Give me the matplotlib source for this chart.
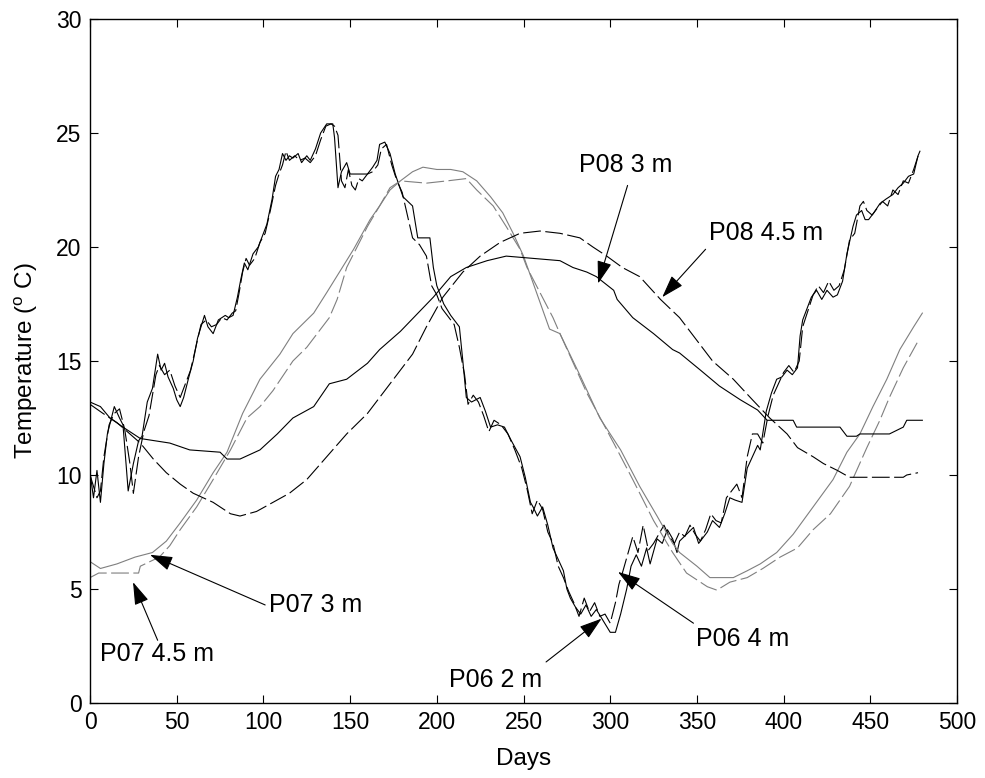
import matplotlib
matplotlib.use("Agg")
import matplotlib.pyplot as plt

plt.rcParams["font.family"] = ["Liberation Sans", "DejaVu Sans"]
plt.rcParams["mathtext.fontset"] = "custom"
plt.rcParams["mathtext.rm"] = "Liberation Sans"
plt.rcParams["mathtext.it"] = "Liberation Sans"

# P06 2 m
p06_2_days = [0, 2, 4, 6, 8, 10, 14, 17, 19, 22, 25, 28, 30, 33, 36, 39, 41, 43, 45, 48,
              50, 52, 54, 57, 59.5, 62, 66, 68, 71, 74, 78, 80, 82.5, 85, 87, 89, 91, 94, 97, 99,
              102, 105, 107, 109, 111, 113, 115, 117, 120, 122, 125, 127, 130, 133, 136.5, 140,
              141, 143, 145, 148, 150, 152, 156, 160, 163, 165.5, 167, 170, 173, 176, 180.5, 186,
              189, 196, 198, 200, 204, 208, 213, 215, 217, 220, 225, 228, 231, 235, 239, 243, 248,
              251, 254, 255.5, 258, 261, 264, 267, 270, 273, 275, 277, 280, 283, 286, 289, 292,
              296, 300, 303, 306, 309.5, 312, 315, 318, 321, 323, 327, 330, 333, 336, 338.5, 340,
              344, 348, 351, 354, 356, 359, 363, 366, 369, 372, 376, 379, 382, 385, 386.5, 390,
              393, 396, 399, 402, 405, 408, 409.5, 411, 413.5, 416, 419, 422, 425, 428.5, 431,
              434, 436.5, 440, 442, 445, 447, 449, 452, 455.5, 459, 463, 466, 469, 472, 475,
              477.5, 478.6]
p06_2_temp = [10.1, 9.0, 10.2, 8.8, 10.5, 11.8, 13.0, 12.5, 12.2, 9.3, 10.5, 11.5, 11.7, 13.2,
              13.8, 15.3, 14.6, 14.9, 14.3, 13.8, 13.3, 13.0, 13.4, 14.3, 15.0, 16.0, 17.0, 16.5,
              16.2, 16.8, 17.0, 16.9, 17.0, 17.8, 18.6, 19.3, 19.0, 19.7, 20.0, 20.4, 21.0, 22.1,
              23.1, 23.4, 24.1, 23.8, 24.0, 23.9, 24.1, 23.7, 24.0, 23.8, 24.3, 25.0, 25.4, 25.4,
              24.8, 22.6, 23.3, 23.7, 23.2, 23.2, 23.2, 23.2, 23.5, 23.8, 24.5, 24.6, 24.1, 23.2,
              22.2, 21.8, 20.4, 20.4, 19.1, 18.3, 17.5, 17.0, 16.5, 15.0, 13.4, 13.2, 13.4, 12.8,
              12.1, 12.2, 12.1, 11.5, 10.8, 9.9, 8.8, 8.6, 8.2, 8.6, 7.8, 6.8, 6.3, 5.8, 5.0, 4.6,
              4.2, 3.9, 4.3, 3.8, 4.1, 3.6, 3.1, 3.1, 3.9, 5.0, 6.0, 6.5, 6.0, 6.8, 6.1, 7.2, 7.0,
              7.6, 7.2, 6.6, 7.1, 7.4, 7.7, 7.0, 7.3, 7.5, 8.0, 7.7, 8.3, 9.0, 8.9, 8.8, 10.3,
              10.8, 11.3, 11.1, 12.8, 13.6, 14.2, 14.3, 14.6, 14.4, 14.7, 16.1, 16.8, 17.3, 17.8,
              18.1, 17.7, 18.1, 17.8, 17.9, 18.5, 19.7, 20.9, 21.4, 21.6, 21.2, 21.2, 21.5, 21.9,
              22.1, 22.3, 22.6, 22.8, 23.1, 23.2, 24.0, 24.2]

# P06 4 m
p06_4_days = [0, 2, 4, 6, 8, 11, 14, 17, 20, 23, 25, 28, 31, 34, 36, 38, 40, 43, 46, 49, 52,
              55, 58, 61, 64, 67, 70, 73, 76, 79, 82, 84, 86, 88, 90, 92, 95, 98, 101, 104, 107,
              109, 111, 113, 115, 118, 121, 124, 127, 130, 133, 136, 139, 141, 143, 145, 147, 149,
              151, 153, 155, 157, 160, 163, 166, 168, 171, 174, 177, 180, 183, 186, 190, 194, 197,
              200, 203, 206, 210, 213, 216, 218, 221, 224, 227, 230, 233, 237, 241, 245, 249, 252,
              255, 258, 261, 264, 267, 270, 273, 276, 279, 282, 285, 288, 291, 294, 297, 300, 303,
              305, 307, 310, 313, 316, 319, 322, 325, 328, 331, 334, 337, 340, 343, 346, 349, 352,
              355, 358, 361, 364, 367, 370, 373, 376, 379, 382, 385, 388, 391, 394, 397, 400, 403,
              406, 409, 411, 414, 417, 420, 423, 426, 429, 432, 435, 438, 441, 444, 446, 448, 451,
              454, 457, 460, 463, 466, 469, 472, 475, 478]
p06_4_temp = [10.0, 9.5, 9.0, 9.3, 10.8, 12.2, 12.7, 12.9, 12.0, 10.5, 9.2, 10.8, 11.9, 12.6,
              13.5, 14.4, 14.8, 14.4, 14.6, 13.9, 13.4, 14.0, 14.6, 15.6, 16.6, 16.8, 16.5, 16.6,
              16.9, 16.8, 17.1, 17.2, 18.0, 18.9, 19.5, 19.2, 19.5, 20.2, 20.6, 21.6, 22.7, 23.2,
              23.6, 24.2, 23.8, 24.0, 23.8, 23.9, 23.7, 24.0, 24.7, 25.3, 25.4, 25.3, 24.9, 22.9,
              22.6, 23.4, 22.7, 22.5, 23.0, 22.9, 23.2, 23.3, 23.6, 24.3, 24.5, 23.6, 22.9, 22.4,
              21.4, 20.4, 20.1, 19.6, 18.3, 17.9, 17.3, 17.0, 16.6, 15.6, 14.4, 13.1, 13.5, 13.2,
              12.6, 11.9, 12.4, 12.2, 11.8, 11.1, 10.3, 9.4, 8.3, 8.9, 8.5, 7.5, 7.0, 6.0, 5.5,
              4.9, 4.4, 3.8, 4.6, 4.0, 4.4, 3.8, 3.9, 3.5, 4.4, 5.2, 5.7, 6.5, 7.3, 6.6, 7.8, 6.7,
              7.0, 7.4, 7.8, 7.3, 7.0, 7.5, 7.3, 7.8, 7.4, 7.1, 7.6, 8.3, 8.0, 7.9, 9.0, 9.3, 9.6,
              9.0, 10.8, 11.8, 11.8, 11.4, 12.6, 13.5, 14.0, 14.5, 14.8, 14.5, 15.0, 16.5, 17.2,
              17.9, 18.3, 18.0, 18.5, 18.1, 18.3, 19.0, 20.3, 20.6, 21.8, 22.0, 21.6, 21.4, 21.7,
              22.0, 21.8, 22.5, 22.3, 22.9, 22.8, 23.4, 24.1]

# P07 3 m
p07_3_days = [0, 6, 15.5, 26, 36, 44, 52, 61.5, 71, 79, 88, 98, 109.5, 117, 129, 136.5, 152,
              161.5, 167, 173, 179, 186, 192, 200, 208, 215, 223, 231, 238, 244, 250, 265, 271,
              283, 294, 306, 317, 327, 336, 340, 350, 357.5, 371, 379, 386.5, 396, 405.5, 417,
              428.5, 436.5, 444, 451.5, 459.5, 467, 475, 480]
p07_3_temp = [6.2, 5.9, 6.1, 6.4, 6.6, 7.1, 7.9, 8.9, 10.1, 11.0, 12.7, 14.2, 15.3, 16.2, 17.1,
              18.0, 19.9, 21.2, 21.8, 22.5, 22.9, 23.3, 23.5, 23.4, 23.4, 23.3, 22.9, 22.2, 21.5,
              20.6, 19.6, 16.4, 16.2, 14.3, 12.5, 11.1, 9.5, 8.2, 7.0, 6.6, 6.0, 5.5, 5.5, 5.8,
              6.1, 6.6, 7.4, 8.6, 9.8, 11.0, 11.8, 13.0, 14.2, 15.5, 16.5, 17.1]

# P07 4.5 m
p07_45_days = [0, 5, 28, 29, 40, 46, 52, 61.5, 71, 81, 90.5, 98, 105.5, 117, 125, 138, 142.5,
               148, 160, 167, 173, 179, 194, 206, 217, 223, 232.5, 240, 248, 252, 267, 271,
               286.5, 302, 313, 325, 336, 344, 356, 361.5, 369, 379, 388, 398, 408, 417, 427,
               432.5, 438, 448, 455.5, 461, 469, 477]
p07_45_temp = [5.5, 5.7, 5.7, 6.0, 6.4, 6.9, 7.6, 8.6, 9.8, 11.1, 12.5, 13.0, 13.7, 15.0, 15.6,
               16.9, 17.7, 19.1, 20.9, 21.8, 22.6, 22.9, 22.8, 22.9, 23.0, 22.5, 21.8, 20.9, 19.9,
               19.1, 16.9, 16.2, 13.6, 11.4, 9.8, 8.0, 6.6, 5.7, 5.1, 4.95, 5.3, 5.5, 5.9, 6.4,
               6.8, 7.6, 8.3, 8.9, 9.5, 11.2, 12.4, 13.4, 14.7, 15.8]

# P08 3 m
p08_3_days = [0, 6, 11.5, 19, 29, 46, 57.5, 75, 79, 86.5, 98, 108, 117, 129, 138, 148, 160,
              167, 179, 198, 208, 217, 229, 240, 255.5, 271, 278.5, 286.5, 292, 302, 304, 313,
              325, 336, 340, 352, 363, 375, 385, 390.5, 405.5, 407.5, 432.5, 436.5, 442, 444,
              461, 469, 471, 480]
p08_3_temp = [13.2, 13.0, 12.5, 12.1, 11.6, 11.4, 11.1, 11.0, 10.7, 10.7, 11.1, 11.8, 12.5,
              13.0, 14.0, 14.2, 14.9, 15.5, 16.3, 17.8, 18.7, 19.1, 19.4, 19.6, 19.5, 19.4, 19.1,
              18.9, 18.7, 18.1, 17.7, 16.9, 16.2, 15.5, 15.35, 14.6, 13.9, 13.3, 12.85, 12.4,
              12.4, 12.1, 12.1, 11.7, 11.7, 11.8, 11.8, 12.1, 12.4, 12.4]

# P08 4.5 m
p08_45_days = [0, 7.5, 15.5, 23, 29, 36.5, 44, 52, 59.5, 71, 81, 86.5, 96, 105.5, 115, 125,
               136.5, 148, 160, 167, 175, 186, 194, 203.5, 215, 225, 236.5, 248, 259.5, 271,
               282.5, 290, 298, 307, 317, 323, 329, 340, 350, 359, 371, 382, 392, 402, 408, 417,
               423, 431, 438, 469, 471, 477.5]
p08_45_temp = [13.1, 12.7, 12.3, 11.8, 11.4, 10.7, 10.1, 9.6, 9.2, 8.8, 8.3, 8.2, 8.4, 8.8,
               9.2, 9.8, 10.8, 11.8, 12.7, 13.4, 14.2, 15.3, 16.5, 17.8, 18.9, 19.6, 20.2, 20.6,
               20.7, 20.6, 20.4, 20.0, 19.6, 19.1, 18.7, 18.2, 17.7, 16.9, 15.9, 15.0, 14.2, 13.3,
               12.5, 11.8, 11.2, 10.8, 10.5, 10.2, 9.9, 9.9, 10.0, 10.1]

grey = "#7f7f7f"
dash = (16, 4)

fig = plt.figure(figsize=(9.85, 7.78), dpi=100)
ax = fig.add_axes([0.0914, 0.0964, 0.8802, 0.8792])

ax.plot(p06_2_days, p06_2_temp, color="black", lw=0.8)
ax.plot(p06_4_days, p06_4_temp, color="black", lw=0.8, dashes=dash)
ax.plot(p07_3_days, p07_3_temp, color=grey, lw=0.8)
ax.plot(p07_45_days, p07_45_temp, color=grey, lw=0.8, dashes=dash)
ax.plot(p08_3_days, p08_3_temp, color="black", lw=0.8)
ax.plot(p08_45_days, p08_45_temp, color="black", lw=0.8, dashes=dash)

ax.set_xlim(0, 500)
ax.set_ylim(0, 30)
ax.set_xticks(range(0, 501, 50))
ax.set_yticks(range(0, 31, 5))
ax.tick_params(direction="in", top=True, right=True, length=6, width=0.8, labelsize=16.5, pad=6)
for s in ax.spines.values():
    s.set_linewidth(1.0)

ax.set_xlabel("Days", fontsize=17.5, labelpad=10)
ax.set_ylabel(r"Temperature ($^{o}$ C)", fontsize=17.5, labelpad=12)

# labels: (text, text position, arrow start, arrow tip)
labels = [
    ("P08 3 m", (309, 23.6), (310, 22.7), (293, 18.4)),
    ("P08 4.5 m", (390, 20.6), (355, 19.9), (330, 17.8)),
    ("P07 3 m", (130, 4.3), (101, 4.3), (34.6, 6.5)),
    ("P07 4.5 m", (38.6, 2.15), (39, 2.75), (24.8, 5.3)),
    ("P06 2 m", (234, 1.0), (263, 1.8), (295, 3.7)),
    ("P06 4 m", (376.6, 2.8), (348, 3.5), (304.5, 5.75)),
]
for txt, tpos, start, tip in labels:
    ax.text(tpos[0], tpos[1], txt, fontsize=18, ha="center", va="center")
    ax.annotate("", xy=tip, xytext=start,
                arrowprops=dict(arrowstyle="-|>,head_length=1.4,head_width=0.45",
                                color="black", lw=0.8, shrinkA=0, shrinkB=0))

fig.savefig("out.png", dpi=100)
